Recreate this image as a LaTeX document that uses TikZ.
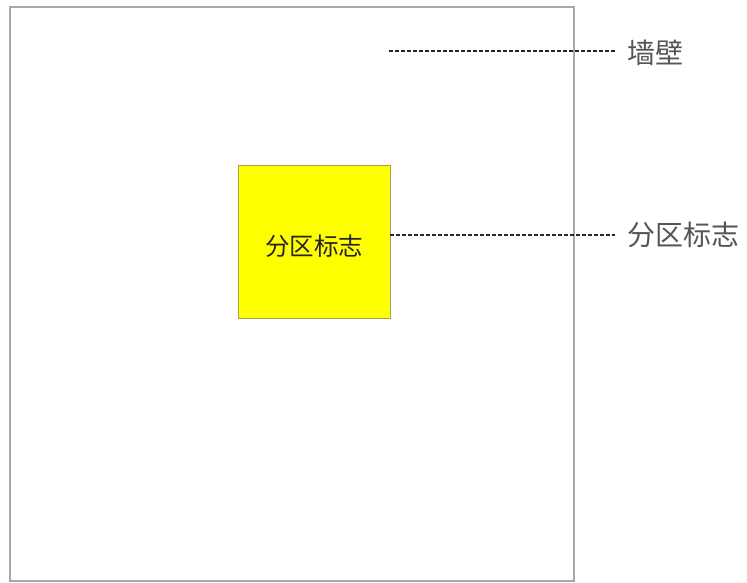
\documentclass[tikz,border=0pt]{standalone}
\usepackage{fontspec}
\newfontfamily\cjk{Noto Sans CJK SC}
\definecolor{wallgray}{HTML}{A8A8A8}
\definecolor{signyellow}{HTML}{FFFF00}
\definecolor{signborder}{HTML}{A89F50}
\definecolor{labelgray}{HTML}{555555}
\tikzset{
  wall/.style={draw=wallgray, line width=1.8pt},
  signbox/.style={draw=signborder, fill=signyellow, line width=0.9pt},
  leader/.style={draw=black!85, line width=1.2pt, dash pattern=on 4pt off 2pt},
  lbl/.style={font=\cjk\fontsize{28}{32}\selectfont, text=labelgray, anchor=west, inner sep=0pt},
  inlbl/.style={font=\cjk\fontsize{24.5}{28}\selectfont, text=black!85, inner sep=0pt}
}
\begin{document}
\begin{tikzpicture}[x=1pt,y=-1pt]
\useasboundingbox (0,0) rectangle (747,583);
\draw[wall] (10,7) rectangle (574,581);
\draw[signbox] (238,165) rectangle (390,318);
\node[inlbl] (sign) at (314,246) {分区标志};
\coordinate (signE) at (390,235);
\coordinate (wallP) at (389,51);
\node[lbl] (wallL) at (627,53) {墙壁};
\node[lbl] (signL) at (627,235) {分区标志};
\draw[leader] (wallP) -- (615,51);
\draw[leader] (signE) -- (615,235);
\end{tikzpicture}
\end{document}
